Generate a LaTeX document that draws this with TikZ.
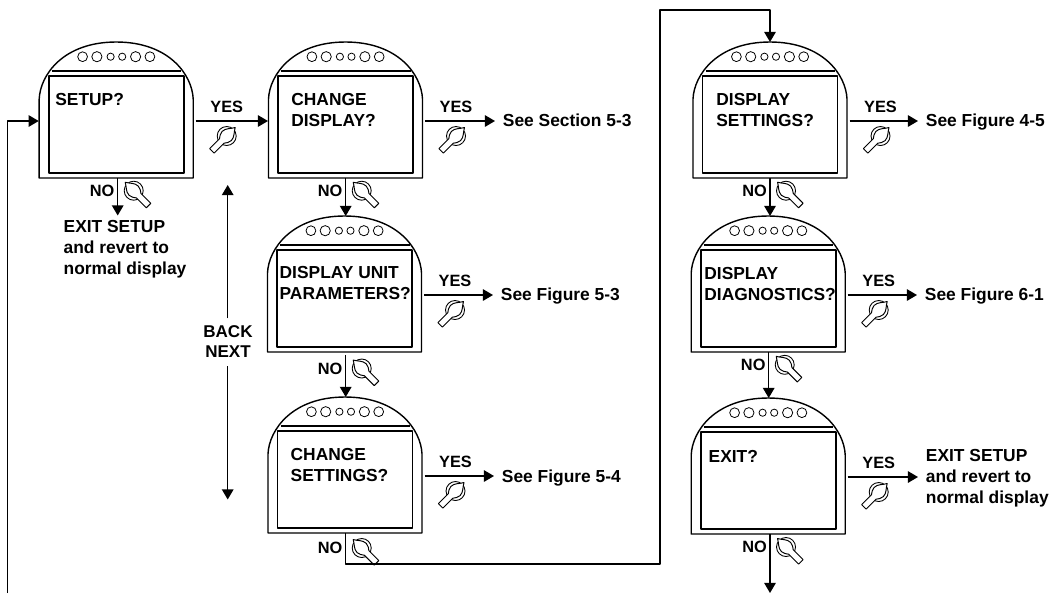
\documentclass[tikz,border=0pt]{standalone}
\usepackage{fontspec}
\setmainfont{Liberation Sans}
\usetikzlibrary{arrows.meta}
\tikzset{
	caption/.style={anchor=north west,inner sep=0pt,align=left},
	refnote/.style={anchor=north west,inner sep=0pt,outer xsep=4.5pt,outer ysep=0pt,align=left},
	branchlbl/.style={inner sep=0pt,align=center,font=\bfseries\fontsize{9.3pt}{11.9pt}\selectfont},
	panel/.pic={
		\draw[line width=.8pt] (-77,57) .. controls (-76,33) and (-53,0) .. (0,0)
		.. controls (53,0) and (76,33) .. (77,57) -- (77,136) -- (-77,136) -- cycle;
		\draw[line width=.95pt] (-67.5,34) rectangle (67.5,131);
		\draw[line width=.95pt] (-64.5,29) -- (65,29);
		\foreach \ledx/\ledr in {-33.6/4.9,-19.3/5.1,-5.6/3.6,6/3.6,19.4/5.1,33.7/4.9}
		\draw[line width=.45pt] (\ledx,14.7) circle (\ledr);
		\coordinate (-n) at (0,0);
		\coordinate (-s) at (0,136);
		\coordinate (-w) at (-77.5,79);
		\coordinate (-yes) at (79.5,79);
	},
	knob/.pic={
		\draw[line width=.5pt] (0,0) circle (9.5);
		\draw[line width=.55pt,fill=white,rotate=-45] (-12,0) .. controls (-8,-2) and (-5,-6.5) .. (0,-6.5)
		.. controls (3,-6.5) and (5,-4.5) .. (7,-3.2) -- (21,-3.2) -- (21,3.2) -- (7,3.2)
		.. controls (5,4.5) and (3,6.5) .. (0,6.5) .. controls (-5,6.5) and (-8,2) .. (-12,0) -- cycle;
	},
}
\begin{document}
\begin{tikzpicture}[x=0.02cm,y=-0.02cm,line join=round,>={Triangle[length=5.8pt,width=6.6pt]},font=\bfseries\fontsize{9.9pt}{12pt}\selectfont]
	\useasboundingbox (0,0) rectangle (1050,593);
	\foreach \pname/\px/\py in {setup/116.2/42,chgdisp/345.5/42,unitpar/344.5/216,chgset/345/397,dispset/770/42,dispdiag/768.2/216,exitq/768.2/398}
	\pic (\pname) at (\px,\py) {panel};
	% text on the screens
	\node[caption] (setuptxt) at (55,92.8) {SETUP?};
	\node[caption] (chgdisptxt) at (291,92.8) {CHANGE\\DISPLAY?};
	\node[caption] (unitpartxt) at (279.3,265.5) {DISPLAY UNIT\\PARAMETERS?};
	\node[caption] (chgsettxt) at (290.3,447.8) {CHANGE\\SETTINGS?};
	\node[caption] (dispsettxt) at (716,92.8) {DISPLAY\\SETTINGS?};
	\node[caption] (dispdiagtxt) at (704,266.5) {DISPLAY\\DIAGNOSTICS?};
	\node[caption] (exitqtxt) at (708.3,449.8) {EXIT?};
	% where the YES branches go
	\node[refnote] (chgdispref) at (495,113.8) {See Section 5-3};
	\node[refnote] (unitparref) at (493,288.2) {See Figure 5-3};
	\node[refnote] (chgsetref) at (494,469.5) {See Figure 5-4};
	\node[refnote] (dispsetref) at (918,113.8) {See Figure 4-5};
	\node[refnote] (dispdiagref) at (917,288.2) {See Figure 6-1};
	\node[refnote] (exitqref) at (918,449.5) {EXIT SETUP\\and revert to\\normal display};
	\node[caption] (setupexit) at (63.3,220) {EXIT SETUP\\and revert to\\normal display};
	\draw[->,line width=.8pt] (setup-yes) -- (chgdisp-w);
	\foreach \pname in {chgdisp,unitpar,chgset,dispset,dispdiag,exitq}
	\draw[->,line width=.8pt] (\pname-yes) -- (\pname-yes -| \pname ref.west);
	\foreach \pname in {setup,chgdisp,unitpar,chgset,dispset,dispdiag,exitq}{
		\node[branchlbl] (\pname-yeslbl) at ([shift={(31,-14.5)}]\pname-yes) {YES};
		\pic[xscale=-1] (\pname-yesknob) at ([shift={(31,15)}]\pname-yes) {knob};
	}
	% NO branches: arrow x, label y
	\foreach \pname/\nox/\noy in {setup/117.7/190.7,chgdisp/345.7/190.7,unitpar/345.7/368.5,chgset/345.7/548,dispset/770/190.7,dispdiag/768.7/364.8,exitq/770/547}{
		\node[branchlbl] (\pname-nolbl) at (\nox-15.5,\noy) {NO};
		\pic (\pname-noknob) at (\nox+16,\noy) {knob};
		\coordinate (\pname-no) at (\nox,0);
	}
	\coordinate (setupout) at (117.7,215.5);
	\coordinate (exitout) at (770,593);
	\coordinate (turna) at (660,564);
	\coordinate (turnb) at (660,10);
	\coordinate (loopin) at (7.7,593);
	\draw[->,line width=.8pt] (setup-no |- setup-s) -- (setupout);
	\draw[->,line width=.8pt] (chgdisp-no |- chgdisp-s) -- (chgdisp-no |- unitpar-n);
	\draw[->,line width=.8pt] ([yshift=-1.6pt]unitpar-no |- unitpar-s) -- (unitpar-no |- chgset-n);
	\draw[->,line width=.8pt] (dispset-no |- dispset-s) -- (dispset-no |- dispdiag-n);
	\draw[->,line width=.8pt] (dispdiag-no |- dispdiag-s) -- (dispdiag-no |- exitq-n);
	\draw[->,line width=.8pt] (exitq-no |- exitq-s) -- (exitout);
	\draw[->,line width=.8pt] (chgset-no |- chgset-s) |- (turna) -- (turnb) -| (dispset-n);
	\draw[->,line width=.8pt] (loopin) |- (setup-w);
	% scrolling between the questions
	\node[branchlbl,font=\bfseries\fontsize{9.7pt}{11.9pt}\selectfont] (backnext) at (228,341.5) {BACK\\NEXT};
	\coordinate (backtip) at (227.7,185);
	\coordinate (nexttip) at (227.7,499.5);
	\draw[->,line width=.8pt] (backnext.north -| backtip) ++(0,-6.5) -- (backtip);
	\draw[->,line width=.8pt] (backnext.south -| nexttip) ++(0,8) -- (nexttip);
\end{tikzpicture}
\end{document}
